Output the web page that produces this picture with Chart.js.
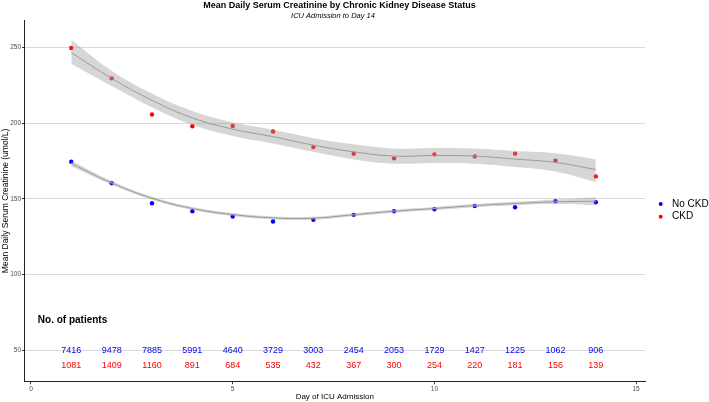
<!DOCTYPE html>
<html>
<head>
<meta charset="utf-8">
<script src="https://cdn.jsdelivr.net/npm/chart.js@4/dist/chart.umd.min.js"></script>
<style>
  html, body { margin: 0; padding: 0; background: #fff; }
</style>
</head>
<body>
<canvas id="chart" width="709" height="402"></canvas>
<script>
// data
const days = [1, 2, 3, 4, 5, 6, 7, 8, 9, 10, 11, 12, 13, 14];
const noCkdMean = [174.5, 160.3, 147.1, 141.8, 138.3, 135.0, 136.1, 139.4, 141.8, 143.1, 145.3, 144.4, 148.4, 147.7];
const ckdMean = [249.5, 229.5, 205.6, 197.9, 198.0, 194.4, 184.2, 179.8, 176.7, 179.3, 178.0, 179.8, 175.2, 164.8];

// smoothed fit and its confidence band
const noCkdFit = [173.3, 160.5, 150.4, 143.6, 139.6, 137.4, 137.2, 139.5, 141.8, 143.6, 145.5, 146.9, 148.0, 148.4];
const noCkdHi = [175.1, 161.7, 151.4, 144.6, 140.6, 138.4, 138.2, 140.5, 142.8, 144.6, 146.5, 148.0, 149.5, 151.0];
const noCkdLo = [171.5, 159.3, 149.4, 142.6, 138.6, 136.4, 136.2, 138.5, 140.8, 142.6, 144.5, 145.8, 146.5, 145.8];
const ckdFit = [246.5, 229.5, 215.0, 203.4, 196.0, 191.0, 185.4, 181.0, 178.2, 178.6, 178.2, 176.2, 174.0, 169.3];
const ckdHi = [255.0, 234.5, 219.5, 208.0, 200.5, 195.5, 190.0, 186.0, 183.2, 183.6, 183.2, 181.5, 180.0, 176.0];
const ckdLo = [239.0, 224.5, 210.5, 198.8, 191.5, 186.5, 181.0, 176.0, 173.2, 173.6, 173.2, 171.0, 168.0, 161.0];

// patients per day
const noCkdN = [7416, 9478, 7885, 5991, 4640, 3729, 3003, 2454, 2053, 1729, 1427, 1225, 1062, 906];
const ckdN = [1081, 1409, 1160, 891, 684, 535, 432, 367, 300, 254, 220, 181, 156, 139];

const xTicks = [0, 5, 10, 15];
const yTicks = [50, 100, 150, 200, 250];

const FONT = '"Liberation Sans", Arial, sans-serif';
Chart.defaults.font.family = FONT;

const pts = (arr) => days.map((d, i) => ({ x: d, y: arr[i] }));

function fitLine(data) {
    return {
        data: pts(data), borderColor: '#9a9a9a', borderWidth: 1,
        pointRadius: 0, fill: false, tension: 0.4, order: 0
    };
}
function band(data, fill) {
    return {
        data: pts(data), borderWidth: 0, borderColor: 'rgba(0,0,0,0)',
        backgroundColor: 'rgba(153,153,153,0.4)', pointRadius: 0,
        fill: fill, tension: 0.4, order: 1
    };
}
function dots(data, color) {
    return {
        data: pts(data), showLine: false, pointRadius: 2.2, borderWidth: 0,
        pointBackgroundColor: color, backgroundColor: color, order: 2
    };
}

// titles, legend and the patient counts table
const extras = {
    id: 'extras',
    afterDatasetsDraw(chart) {
        const { ctx, scales: { x, y } } = chart;
        ctx.save();
        ctx.textAlign = 'center';
        ctx.textBaseline = 'middle';
        ctx.font = '9px ' + FONT;
        days.forEach((d, i) => {
            const px = x.getPixelForValue(d);
            ctx.fillStyle = 'blue';
            ctx.fillText(noCkdN[i], px, y.getPixelForValue(50));
            ctx.fillStyle = 'red';
            ctx.fillText(ckdN[i], px, y.getPixelForValue(39.7));
        });
        ctx.textAlign = 'left';
        ctx.fillStyle = '#000';
        ctx.font = 'bold 10px ' + FONT;
        ctx.fillText('No. of patients', x.getPixelForValue(0.17), y.getPixelForValue(69.6));
        ctx.restore();
    },
    afterDraw(chart) {
        const ctx = chart.ctx;
        ctx.save();
        ctx.textAlign = 'center';
        ctx.textBaseline = 'middle';
        ctx.fillStyle = '#000';
        ctx.font = 'bold 9px ' + FONT;
        ctx.fillText('Mean Daily Serum Creatinine by Chronic Kidney Disease Status', 339.5, 5.5);
        ctx.font = 'italic 7.5px ' + FONT;
        ctx.fillText('ICU Admission to Day 14', 333, 16);

        // legend
        const items = [['No CKD', 'blue', 204], ['CKD', 'red', 216.7]];
        ctx.textAlign = 'left';
        ctx.font = '10px ' + FONT;
        items.forEach(([label, color, yy]) => {
            ctx.fillStyle = color;
            ctx.beginPath();
            ctx.arc(660.7, yy, 2, 0, Math.PI * 2);
            ctx.fill();
            ctx.fillStyle = '#000';
            ctx.fillText(label, 672, yy);
        });
        ctx.restore();
    }
};

new Chart(document.getElementById('chart').getContext('2d'), {
    type: 'line',
    data: {
        datasets: [
            dots(noCkdMean, 'blue'),
            dots(ckdMean, 'red'),
            band(noCkdLo, false),
            band(noCkdHi, '-1'),
            band(ckdLo, false),
            band(ckdHi, '-1'),
            fitLine(noCkdFit),
            fitLine(ckdFit)
        ]
    },
    options: {
        responsive: false,
        animation: false,
        devicePixelRatio: 1,
        layout: { padding: { top: 20, right: 64, left: 0, bottom: 0 } },
        plugins: {
            legend: { display: false },
            tooltip: { enabled: false }
        },
        scales: {
            x: {
                type: 'linear',
                min: -0.16,
                max: 15.22,
                afterBuildTicks: (s) => { s.ticks = xTicks.map(v => ({ value: v })); },
                afterFit: (s) => { s.height = 20.3; },
                grid: { drawOnChartArea: false, tickLength: 2.5, tickColor: '#333' },
                border: { color: '#222', width: 1 },
                ticks: { color: '#4d4d4d', font: { size: 6.5 }, padding: 1, maxRotation: 0 },
                title: { display: true, text: 'Day of ICU Admission', color: '#000', font: { size: 8 }, padding: 0 }
            },
            y: {
                type: 'linear',
                min: 29.3,
                max: 268,
                afterBuildTicks: (s) => { s.ticks = yTicks.map(v => ({ value: v })); },
                afterFit: (s) => { s.width = 24.5; },
                grid: { color: '#dadada', lineWidth: 1, tickLength: 2.5, tickColor: '#333' },
                border: { color: '#222', width: 1 },
                ticks: { color: '#4d4d4d', font: { size: 6.5 }, padding: 1 },
                title: { display: true, text: 'Mean Daily Serum Creatinine (umol/L)', color: '#000', font: { size: 8.5 }, padding: { top: 1, bottom: 0 } }
            }
        }
    },
    plugins: [extras]
});
</script>
</body>
</html>
